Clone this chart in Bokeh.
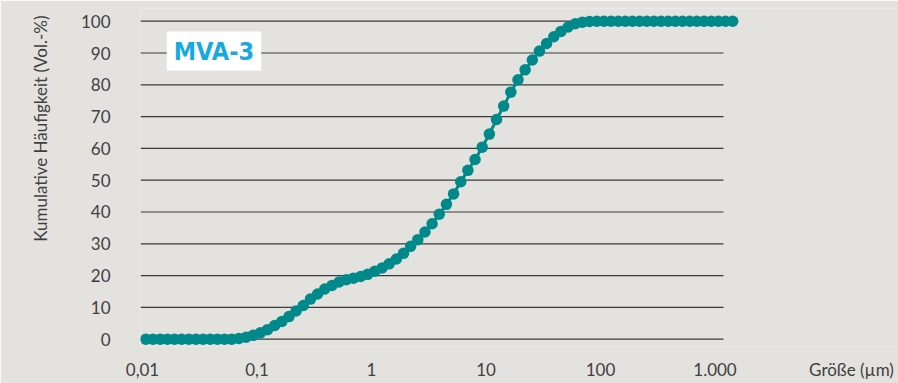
from bokeh.embed import file_html
from bokeh.models import ColumnDataSource, FixedTicker, Label, Range1d, Title
from bokeh.plotting import figure
from bokeh.resources import INLINE

# Particle size classes (µm), logarithmic bins
sizes_um = [
    0.0107, 0.01236, 0.01427, 0.01648, 0.01903, 0.02197, 0.02537, 0.0293,
    0.03384, 0.03907, 0.04512, 0.05211, 0.06017, 0.06948, 0.08024, 0.09266,
    0.107, 0.1236, 0.1427, 0.1648, 0.1903, 0.2197, 0.2537, 0.293,
    0.3384, 0.3907, 0.4512, 0.5211, 0.6017, 0.6948, 0.8024, 0.9266,
    1.07, 1.236, 1.427, 1.648, 1.903, 2.197, 2.537, 2.93,
    3.384, 3.907, 4.512, 5.211, 6.017, 6.948, 8.024, 9.266,
    10.7, 12.36, 14.27, 16.48, 19.03, 21.97, 25.37, 29.3,
    33.84, 39.07, 45.12, 52.11, 60.17, 69.48, 80.24, 92.66,
    107, 123.6, 142.7, 164.8, 190.3, 219.7, 253.7, 293,
    338.4, 390.7, 451.2, 521.1, 601.7, 694.8, 802.4, 926.6,
    1070, 1236, 1427,
]

# Cumulative volume fraction below each size (Vol.-%)
cumulative_pct = [
    0, 0, 0, 0, 0, 0, 0, 0,
    0, 0, 0, 0, 0, 0.2, 0.6, 1.2,
    2.0, 3.0, 4.3, 5.6, 7.1, 8.9, 10.6, 12.6,
    14.2, 15.8, 16.9, 18.0, 18.7, 19.2, 19.7, 20.4,
    21.4, 22.4, 23.7, 25.2, 27.0, 29.2, 31.3, 33.7,
    36.3, 39.3, 42.4, 45.7, 49.5, 53.1, 56.5, 60.4,
    64.5, 69.1, 73.3, 77.7, 81.6, 84.7, 87.8, 90.6,
    93.0, 95.1, 96.8, 98.2, 99.2, 99.7, 99.9, 100,
    100, 100, 100, 100, 100, 100, 100, 100,
    100, 100, 100, 100, 100, 100, 100, 100,
    100, 100, 100,
]

x_ticks = [0.01, 0.1, 1, 10, 100, 1000]
x_tick_labels = ["0,01", "0,1", "1", "10", "100", "1.000"]
y_ticks = [0, 10, 20, 30, 40, 50, 60, 70, 80, 90, 100]

sample_name = "MVA-3"
x_title = "Größe (µm)"
y_title = "Kumulative Häufigkeit (Vol.-%)"

BG = "#e3e2de"
TEAL = "#00898a"
GRID = "#3a3a3a"
TEXT = "#404040"
LABEL_BLUE = "#19a9e1"
FONT = "Lato"
NARROW_FONT = "Liberation Sans Narrow, DejaVu Sans Condensed, sans-serif"

# the frame runs to the right edge of the canvas so the unit label can
# sit in the tick-label row, beyond the last decade
X_MIN, X_MAX = 0.009606, 40050
Y_MIN, Y_MAX = -2.3, 104.0
GRID_X_END = 1186
X_TITLE_POS = 15560

p = figure(
    width=898, height=383,
    x_axis_type="log",
    x_range=Range1d(X_MIN, X_MAX), y_range=Range1d(Y_MIN, Y_MAX),
    output_backend="svg", toolbar_location=None,
    min_border_left=140, min_border_right=0,
    min_border_top=8, min_border_bottom=37,
    background_fill_color=BG, border_fill_color=BG,
    outline_line_color=None,
)
p.xgrid.visible = False
p.ygrid.visible = False

# horizontal guide lines at each y tick, stopping after the last decade
p.segment(
    x0=[X_MIN] * len(y_ticks), x1=[GRID_X_END] * len(y_ticks),
    y0=y_ticks, y1=y_ticks,
    line_color=GRID, line_width=1.2,
)

src = ColumnDataSource(dict(size=sizes_um, cum=cumulative_pct))
p.line("size", "cum", source=src, line_color=TEAL, line_width=3)
p.scatter("size", "cum", source=src, size=11.5, fill_color=TEAL, line_color=None)

xaxis = p.xaxis[0]
yaxis = p.yaxis[0]
for ax in (xaxis, yaxis):
    ax.axis_line_color = None
    ax.major_tick_line_color = None
    ax.minor_tick_line_color = None
    ax.major_tick_in = 0
    ax.major_tick_out = 0
    ax.minor_tick_in = 0
    ax.minor_tick_out = 0
    ax.major_label_text_font = FONT
    ax.major_label_text_font_size = "17px"
    ax.major_label_text_color = TEXT

xaxis.ticker = FixedTicker(ticks=x_ticks + [X_TITLE_POS])
labels = dict(zip(x_ticks, x_tick_labels))
labels[X_TITLE_POS] = x_title
xaxis.major_label_overrides = labels
xaxis.major_label_standoff = 12

yaxis.ticker = FixedTicker(ticks=y_ticks)
yaxis.major_label_standoff = 30

# y title, read upwards, ending near the top of the frame
p.add_layout(Title(
    text=y_title, align="right", offset=7, standoff=54,
    text_font=FONT, text_font_size="17px", text_color=TEXT,
    text_font_style="normal",
), "left")

p.add_layout(Label(
    x=0.0421, y=90.6, text=sample_name,
    text_font=NARROW_FONT,
    text_font_style="bold", text_font_size="25px", text_color=LABEL_BLUE,
    text_align="center", text_baseline="middle",
    background_fill_color="white",
    padding=dict(left=7, right=7, top=5, bottom=5),
))

open("out.html", "w").write(file_html(p, INLINE))
